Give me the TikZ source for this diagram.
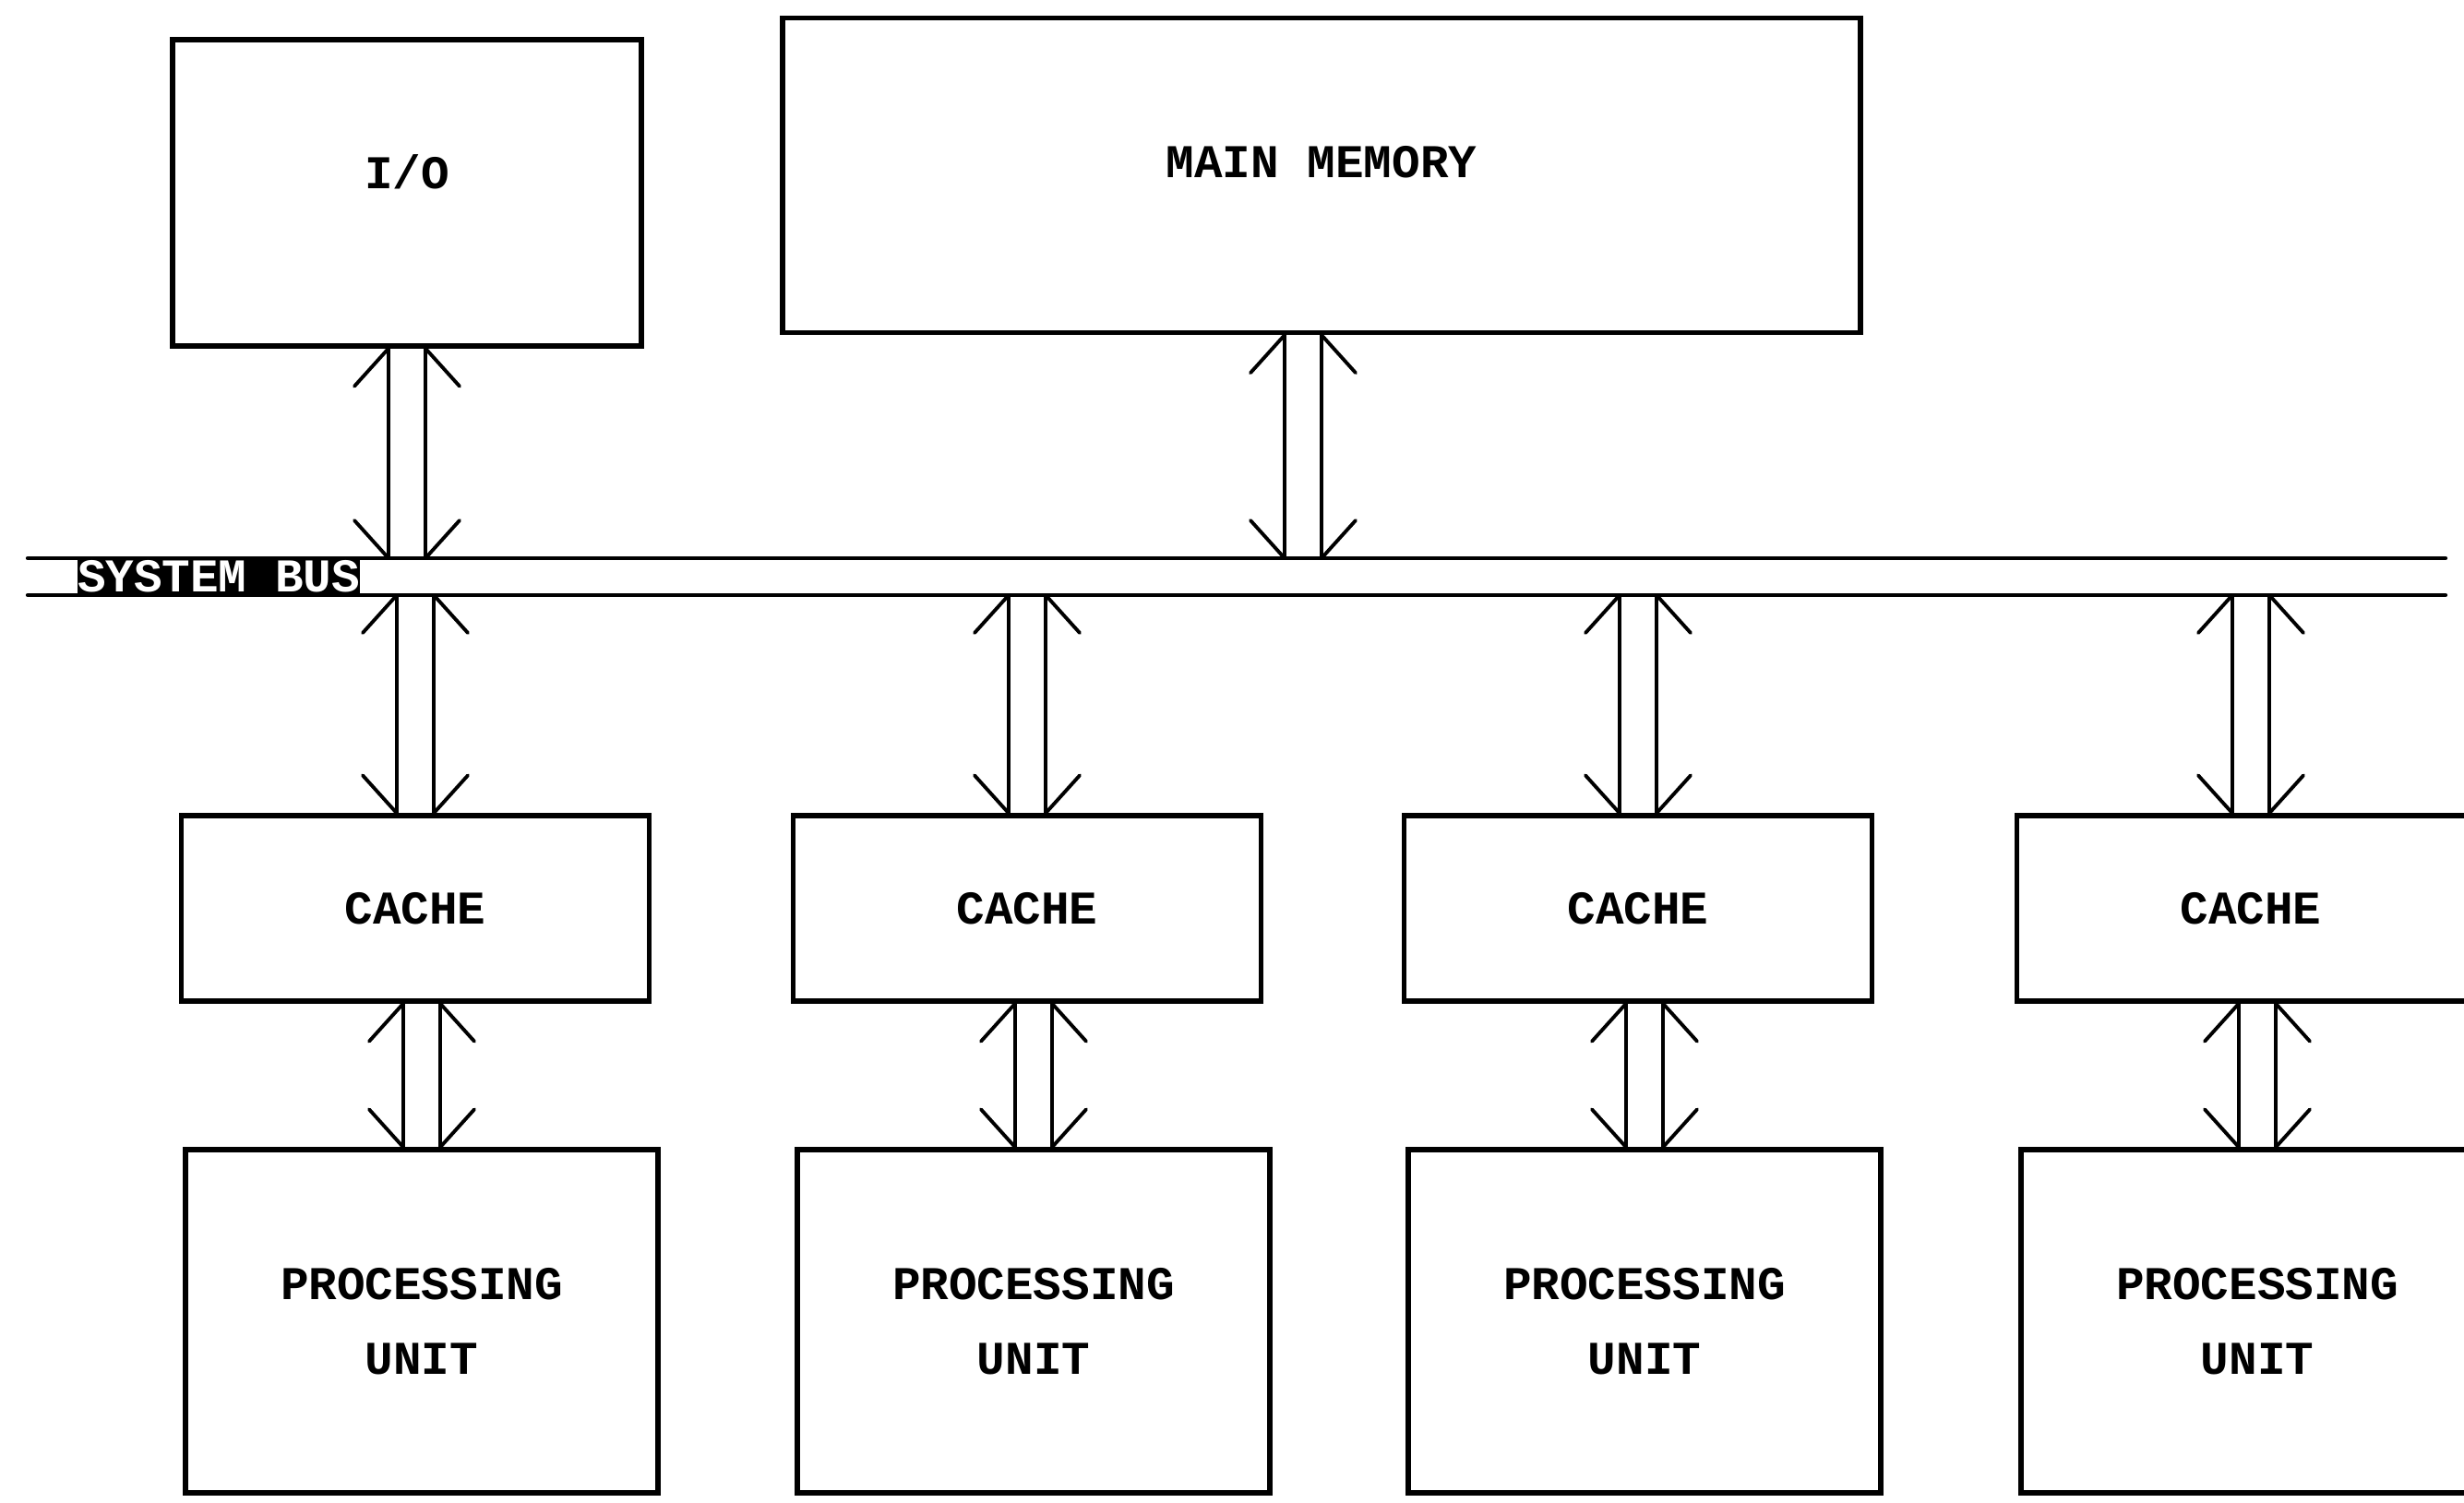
\documentclass[tikz,border=0pt]{standalone}
\usepackage{fontspec}
\setmonofont{Liberation Mono}
\usetikzlibrary{calc}

\tikzset{
  unitbox/.style={draw, line width=1.5pt, inner sep=0pt, align=center,
    font=\ttfamily\bfseries\fontsize{14.5}{23}\selectfont},
  shaft/.style={line width=1.1pt, line cap=round, line join=round},
  busline/.style={line width=1.2pt, line cap=round},
}

% double shaft with open barbs at both ends: #1 upper end, #2 lower end
\newcommand{\dbarrow}[2]{%
  \draw[shaft] ($(#1)+(-0.2,0)$) ++(-0.37,-0.41) -- ++(0.37,0.41) -- ($(#2)+(-0.2,0)$) -- ++(-0.37,0.41);
  \draw[shaft] ($(#1)+(0.2,0)$) ++(0.37,-0.41) -- ++(-0.37,0.41) -- ($(#2)+(0.2,0)$) -- ++(0.37,0.41);
}

\begin{document}
\begin{tikzpicture}
    \useasboundingbox (0,0) rectangle (26.7,-16.29);
    \clip (0,0) rectangle (26.7,-16.29);

    % upper units
    \node[unitbox, minimum width=5.08cm, minimum height=3.32cm, text depth=0.45cm] (io) at (4.41,-2.09) {I/O};
    \node[unitbox, minimum width=11.68cm, minimum height=3.41cm, text depth=0.3cm] (mem) at (14.32,-1.90) {MAIN MEMORY};

    % system bus
    \coordinate (bustopL) at (0.3,-6.05);
    \coordinate (bustopR) at (26.5,-6.05);
    \coordinate (busbotL) at (0.3,-6.45);
    \coordinate (busbotR) at (26.5,-6.45);
    \draw[busline] (bustopL) -- (bustopR);
    \draw[busline] (busbotL) -- (busbotR);
    \node[fill=black, text=white, inner sep=0pt, minimum width=3.05cm, minimum height=0.4cm,
      font=\ttfamily\bfseries\fontsize{14.5}{16}\selectfont] (buslabel) at (2.37,-6.25) {SYSTEM BUS};

    % caches and processing units
    \foreach \i/\x in {1/4.50, 2/11.13, 3/17.75, 4/24.39} {
        \node[unitbox, minimum width=5.07cm, minimum height=2.01cm] (cache\i) at (\x,-9.845) {CACHE};
        \node[unitbox, minimum width=5.12cm, minimum height=3.72cm] (pu\i) at (\x+0.07,-14.32) {PROCESSING\\UNIT};
    }

    % links to the bus
    \coordinate (ioBus) at (io.south |- bustopL);
    \dbarrow{io.south}{ioBus}
    \coordinate (memArr) at ([xshift=-2mm]mem.south);
    \coordinate (memBus) at (memArr |- bustopL);
    \dbarrow{memArr}{memBus}

    \foreach \i in {1,...,4} {
        \coordinate (cacheBus\i) at (cache\i.north |- busbotL);
        \dbarrow{cacheBus\i}{cache\i.north}
        \coordinate (puTop\i) at (pu\i.north |- cache\i.south);
        \dbarrow{puTop\i}{pu\i.north}
    }
\end{tikzpicture}
\end{document}
